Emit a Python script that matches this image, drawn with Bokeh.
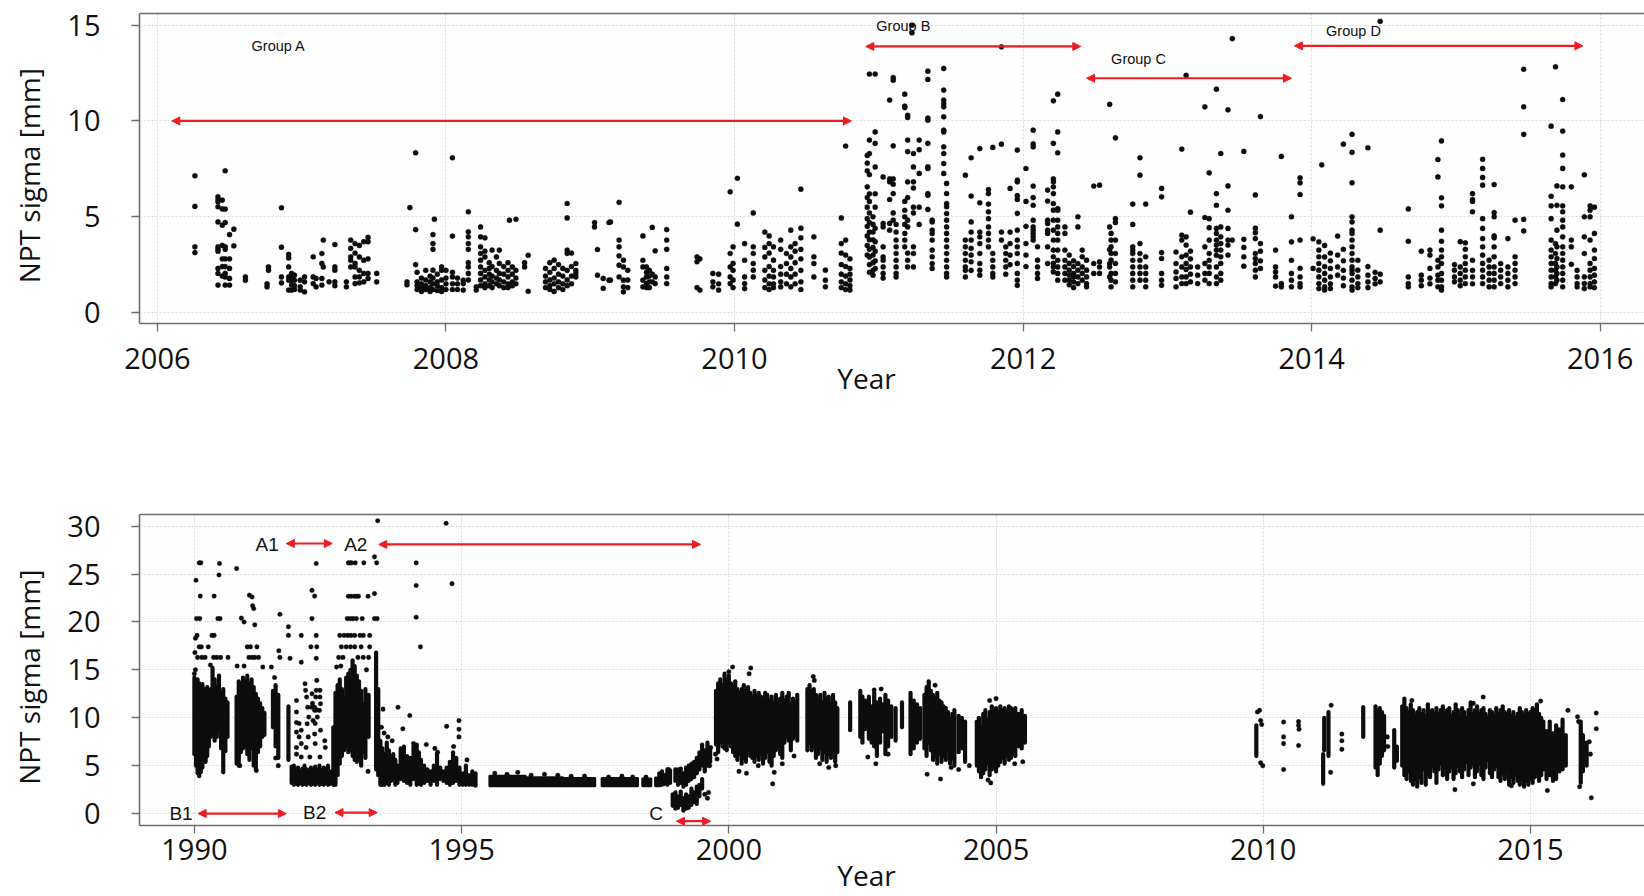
from bokeh.plotting import figure
from bokeh.models import Range1d, FixedTicker, Arrow, NormalHead, Label, LinearAxis
from bokeh.layouts import column
from bokeh.embed import file_html
from bokeh.resources import INLINE

# ---------------- DATA ----------------
# Top panel: (epoch year, [NPT sigma values in mm]) per observation column
group_a_cols = [
    (2006.26, [7.14, 5.54, 3.43, 3.13]),
    (2006.42, [6.04, 5.9, 5.78, 5.52, 4.73, 3.43, 3.31, 3.2, 2.3, 2.04, 1.43]),
    (2006.45, [5.87, 5.41, 4.56, 3.5, 2.8, 2.4, 1.9]),
    (2006.47, [7.4, 5.4, 4.7, 3.43, 3.3, 2.8, 2.4, 2.04, 1.86, 1.43]),
    (2006.50, [4.07, 2.8, 2.3, 1.78, 1.43]),
    (2006.53, [4.35, 3.48]),
    (2006.61, [1.86, 1.69]),
    (2006.76, [1.5, 1.34]),
    (2006.77, [2.38, 2.2]),
    (2006.86, [5.47, 3.41, 1.86, 1.55]),
    (2006.91, [3.03, 2.85, 2.38, 1.86, 1.69, 1.17]),
    (2006.93, [2.04, 1.86, 1.69, 1.43, 1.17]),
    (2006.95, [1.95, 1.69, 1.4, 1.2]),
    (2006.99, [1.69, 1.34, 1.17]),
    (2007.02, [1.86, 1.6, 1.08]),
    (2007.08, [2.91, 1.86, 1.51]),
    (2007.10, [1.78, 1.34]),
    (2007.14, [3.08, 2.56, 1.78, 1.43]),
    (2007.15, [3.78, 2.38]),
    (2007.19, [1.6]),
    (2007.23, [3.55, 2.38, 2.21, 1.6, 1.4]),
    (2007.31, [1.6, 1.34]),
    (2007.34, [3.78, 3.35, 2.91, 2.73, 2.38]),
    (2007.37, [3.6, 3.1, 2.56, 2.38, 1.86, 1.51]),
    (2007.40, [3.5, 2.9, 2.2, 1.86, 1.55]),
    (2007.43, [3.7, 2.73, 2.04, 1.6]),
    (2007.46, [3.92, 3.7, 2.8, 2.04, 1.78]),
    (2007.52, [2.04, 1.6]),
    (2007.73, [1.6, 1.45]),
    (2007.75, [5.48]),
    (2007.79, [8.34, 4.33, 2.5]),
    (2007.80, [2.1, 1.6, 1.4, 1.2]),
    (2007.83, [1.8, 1.5, 1.3, 1.1]),
    (2007.86, [2.2, 1.7, 1.4, 1.2]),
    (2007.89, [1.9, 1.6, 1.3, 1.1]),
    (2007.91, [4.07, 3.6, 3.3, 2.21, 1.8, 1.5, 1.2]),
    (2007.92, [4.87]),
    (2007.94, [2.0, 1.6, 1.4, 1.15]),
    (2007.97, [2.38, 2.2, 1.7, 1.3, 1.1]),
    (2008.00, [2.2, 1.8, 1.5, 1.2]),
    (2008.045, [8.08, 3.99, 2.1, 1.86, 1.5, 1.2]),
    (2008.08, [1.8, 1.5, 1.2]),
    (2008.12, [1.69, 1.51, 1.17]),
    (2008.155, [5.26, 4.21, 3.95, 3.6, 3.3, 2.6, 2.38, 2.04, 1.7]),
    (2008.21, [1.34, 1.17]),
    (2008.24, [4.47, 3.95, 3.43, 3.08, 2.73, 2.38, 2.04, 1.7, 1.4]),
    (2008.27, [3.9, 3.2, 2.9, 2.2, 1.86, 1.5, 1.3]),
    (2008.30, [2.6, 2.3, 2.0, 1.7, 1.4]),
    (2008.32, [3.26, 2.4, 1.9, 1.6, 1.3]),
    (2008.35, [2.9, 2.2, 1.8, 1.5]),
    (2008.37, [3.26, 2.56, 2.04, 1.7, 1.4]),
    (2008.40, [2.4, 2.0, 1.6, 1.3]),
    (2008.43, [2.6, 2.2, 1.86, 1.5, 1.3]),
    (2008.44, [4.82]),
    (2008.46, [2.38, 2.0, 1.6, 1.4]),
    (2008.485, [4.87, 2.2, 1.8, 1.5]),
    (2008.545, [2.6, 2.38]),
    (2008.57, [2.99, 1.11]),
    (2008.69, [2.3, 1.9, 1.6, 1.3]),
    (2008.72, [2.6, 2.1, 1.7, 1.4, 1.2]),
    (2008.75, [2.73, 2.3, 1.8, 1.5, 1.1]),
    (2008.78, [2.5, 2.0, 1.6, 1.3]),
    (2008.81, [2.3, 1.9, 1.5, 1.2]),
    (2008.84, [5.69, 4.94, 3.26, 3.08, 2.2, 1.7, 1.4]),
    (2008.87, [3.1, 2.4, 1.9, 1.5]),
    (2008.90, [2.56, 2.2, 2.04, 1.86]),
    (2009.03, [4.7, 4.47]),
    (2009.05, [3.29, 1.95]),
    (2009.09, [1.78, 1.26]),
    (2009.13, [4.7, 1.69]),
    (2009.14, [4.73, 1.69]),
    (2009.20, [5.75, 3.78, 3.43, 2.96, 2.47, 1.86]),
    (2009.23, [2.73, 2.38, 1.69, 1.34, 1.08]),
    (2009.26, [2.2, 1.7, 1.3]),
    (2009.365, [4.0, 2.73, 2.38, 1.69, 1.34]),
    (2009.39, [2.38, 2.1, 1.86, 1.51, 1.3]),
    (2009.41, [2.2, 1.9, 1.6, 1.3]),
    (2009.43, [4.44, 2.0, 1.6]),
    (2009.45, [3.22, 1.86, 1.51]),
    (2009.53, [4.33, 3.78, 3.3, 2.3, 1.86, 1.51]),
    (2009.74, [2.9, 2.65, 1.3]),
    (2009.76, [2.8, 1.17]),
    (2009.85, [2.04, 1.6, 1.34]),
    (2009.89, [2.0, 1.5, 1.17]),
    (2009.97, [6.3, 3.08, 2.38, 1.86, 1.51]),
    (2009.99, [3.43, 2.56, 2.2, 1.7, 1.3]),
    (2010.02, [7.01, 4.61]),
    (2010.07, [3.6, 2.73, 1.86, 1.51, 1.25]),
    (2010.13, [5.2, 3.43, 3.08, 2.56, 2.21, 1.86]),
    (2010.21, [4.2, 3.4, 2.9, 2.2, 1.7, 1.3]),
    (2010.24, [4.0, 3.6, 3.1, 2.4, 1.9, 1.5, 1.2]),
    (2010.27, [3.43, 2.73, 2.2, 1.86, 1.5, 1.3]),
    (2010.32, [3.78, 3.3, 2.4, 2.0, 1.6, 1.34]),
    (2010.36, [3.08, 2.56, 2.0, 1.5]),
    (2010.39, [4.3, 3.43, 2.9, 2.3, 1.86, 1.34]),
    (2010.42, [3.6, 3.2, 2.6, 2.0, 1.5]),
    (2010.46, [6.44, 4.4, 3.9, 3.3, 2.8, 2.2, 1.6, 1.2]),
    (2010.55, [3.95, 2.91, 2.56, 1.86]),
    (2010.63, [2.21, 1.69, 1.34]),
    (2010.74, [4.94, 3.6, 3.1, 2.5, 2.0, 1.6, 1.3]),
    (2010.77, [8.69, 3.78, 3.0, 2.4, 1.9, 1.5, 1.2]),
    (2010.80, [2.8, 2.3, 2.0, 1.7, 1.4, 1.17]),
]

group_b_cols = [
    (2010.92, [8.2, 7.8, 7.4, 6.56, 6.0, 5.5, 4.9, 4.5, 4.0, 3.5, 3.0]),
    (2010.935, [12.45, 9.0, 8.3, 7.2, 6.2, 5.8, 5.2, 4.7, 4.2, 3.8, 3.3, 2.9, 2.5, 2.1]),
    (2010.96, [5.0, 4.6, 4.2, 3.8, 3.4, 3.0, 2.6, 2.2, 1.95]),
    (2010.975, [12.45, 9.43, 8.83, 7.6, 6.2, 5.5, 4.4, 3.7, 3.2, 2.7, 2.3]),
    (2011.03, [7.08, 4.65, 4.47, 3.43, 2.9, 2.73, 2.38, 2.04, 1.8]),
    (2011.075, [11.09, 6.98, 6.82, 5.9, 4.65, 4.3]),
    (2011.10, [12.27, 12.13, 8.7, 6.98, 6.7, 6.21, 5.2, 4.82]),
    (2011.12, [4.6, 4.2, 3.78, 3.43, 3.08, 2.73, 2.38, 2.04, 1.86]),
    (2011.18, [11.4, 10.78, 10.7, 5.8, 5.34, 5.0, 4.6, 4.13, 3.78, 3.43]),
    (2011.20, [10.3, 10.18, 9.0, 8.4, 6.82, 6.0, 4.82, 4.47, 3.1, 2.73, 2.38]),
    (2011.23, [15.0, 14.6]),
    (2011.24, [8.3, 7.6, 6.82, 6.5, 5.5, 5.2, 3.43, 3.08, 2.38]),
    (2011.28, [9.0, 8.5, 7.26, 5.5, 4.6]),
    (2011.34, [12.6, 12.17, 10.15, 10.04, 8.83, 7.61, 7.52, 6.21, 6.12, 5.38]),
    (2011.37, [4.82, 4.73, 4.3, 4.13, 3.78, 3.26, 2.91, 2.56, 2.3]),
    (2011.45, [12.74, 11.61, 11.09, 10.91, 10.74, 10.22, 9.52, 9.43, 8.65, 8.3, 7.78, 7.26]),
    (2011.47, [6.74, 6.21, 5.69, 5.52, 5.17, 4.82, 4.47, 4.13, 3.78, 3.43, 3.08, 2.73, 2.38, 2.04, 1.86]),
    (2011.60, [7.17, 3.78, 3.43, 3.08, 2.73, 2.38, 2.2, 1.86]),
    (2011.64, [8.08, 6.08, 4.73, 4.2, 3.78, 3.35, 3.0, 2.65, 2.2]),
    (2011.70, [8.56, 5.73, 4.2, 3.95, 3.6, 3.08, 2.56, 2.21, 1.95]),
    (2011.76, [6.42, 6.21, 5.66, 5.26, 4.9, 4.47, 4.13, 3.78, 3.43]),
    (2011.79, [8.62, 3.08, 2.73, 2.38, 2.04, 1.86]),
    (2011.85, [13.87, 8.79, 4.2, 3.78]),
    (2011.88, [3.43, 3.08, 2.73, 2.38, 2.0]),
    (2011.91, [6.48, 4.2, 3.6, 3.0, 2.5]),
    (2011.96, [8.48, 6.91, 6.82, 6.1, 5.9, 5.18, 4.3, 3.78, 3.43, 3.08, 2.56, 2.04, 1.69, 1.42]),
    (2012.02, [7.52, 5.8, 4.5, 3.6, 3.0, 2.4]),
    (2012.07, [9.52, 8.8, 8.65, 6.6, 6.0, 5.6, 4.82, 4.47, 4.3, 4.13, 3.95, 3.78]),
    (2012.10, [3.43, 2.73, 2.38, 2.04, 1.78]),
    (2012.17, [6.39, 5.82, 4.82, 4.65, 4.3, 4.13, 3.43, 2.56]),
    (2012.21, [11.05, 8.83, 6.98, 6.82, 6.56, 6.21, 5.69, 5.34, 4.82, 4.3, 3.78, 3.26, 2.91, 2.56, 2.38, 2.12]),
    (2012.24, [11.4, 9.43, 8.34, 5.43, 5.34, 4.82, 4.47, 4.13, 3.78, 3.26, 2.73, 2.38, 2.04, 1.69]),
    (2012.29, [4.47, 4.13, 3.26, 2.73, 2.38, 2.04, 1.69]),
    (2012.32, [3.0, 2.56, 2.21, 1.95, 1.69, 1.45]),
    (2012.35, [2.7, 2.4, 2.04, 1.86, 1.6, 1.3]),
    (2012.38, [5.0, 4.47, 2.56, 2.21, 1.86, 1.51]),
    (2012.41, [3.26, 2.91, 2.38, 2.04, 1.69]),
    (2012.44, [2.73, 2.21, 1.86, 1.51, 1.34]),
    (2012.49, [6.6, 2.56, 2.04]),
]

group_c_cols = [
    (2012.53, [6.65, 2.65, 2.38, 2.04]),
    (2012.60, [10.87, 4.47, 3.29, 2.56, 2.38, 1.86]),
    (2012.61, [4.13, 3.78, 3.43, 3.08, 2.73, 2.04, 1.69, 1.34]),
    (2012.64, [9.12, 4.9, 4.7, 3.78, 3.08, 2.56, 2.04, 1.6]),
    (2012.76, [5.66, 4.6, 3.43, 3.26, 3.08, 2.73, 2.38, 2.04, 1.69, 1.34]),
    (2012.81, [8.08, 7.17, 3.6, 3.08, 2.73, 2.38, 2.04, 1.69]),
    (2012.85, [5.66, 2.91, 2.38, 2.04, 1.69, 1.34]),
    (2012.96, [6.48, 6.04, 3.13, 2.82, 2.04, 1.69, 1.42]),
    (2013.06, [3.16, 2.56, 2.12, 1.78, 1.34]),
    (2013.10, [8.53, 4.04, 3.78, 2.91, 2.38, 1.86, 1.51]),
    (2013.13, [12.38, 3.95, 3.52, 3.0, 2.56, 2.25, 1.86, 1.51]),
    (2013.16, [5.24, 3.2, 2.8, 2.38, 2.0, 1.6]),
    (2013.21, [2.38, 1.95, 1.51]),
    (2013.26, [10.74, 4.96, 3.43, 2.56, 2.04, 1.69]),
    (2013.29, [7.29, 4.9, 4.43, 3.78, 3.08, 2.73, 2.38, 2.04, 1.51]),
    (2013.34, [11.66, 6.21, 5.6, 4.39, 4.13, 3.78, 3.52, 3.26, 2.99, 2.38, 1.86, 1.51]),
    (2013.37, [8.3, 4.47, 3.95, 3.6, 3.26, 2.91, 2.56, 2.04, 1.69]),
    (2013.42, [10.58, 6.61, 5.34, 4.39, 3.78, 3.52, 3.0]),
    (2013.45, [14.3, 3.78]),
    (2013.53, [8.41, 3.82, 3.4, 2.91, 2.42]),
    (2013.61, [6.14, 4.4, 4.17, 3.86, 3.08, 2.82, 2.56, 2.21, 1.86]),
    (2013.645, [10.23, 3.6, 3.2, 2.7, 2.3]),
    (2013.75, [3.26, 2.38, 2.12, 1.86, 1.38]),
    (2013.79, [8.15, 1.51, 1.34]),
]

group_d_cols = [
    (2013.86, [5.0, 3.69, 2.73, 2.04, 1.69, 1.34]),
    (2013.92, [7.03, 6.77, 6.16, 3.78, 2.31, 1.86, 1.51, 1.34]),
    (2014.01, [3.85, 2.3]),
    (2014.05, [3.69, 3.26, 2.91, 2.56, 2.21, 1.86, 1.51, 1.25]),
    (2014.07, [7.71]),
    (2014.09, [3.5, 2.9, 2.4, 2.04, 1.69, 1.34, 1.17]),
    (2014.13, [3.1, 2.7, 2.3, 1.86, 1.5, 1.25]),
    (2014.18, [3.99, 3.0, 2.38, 1.95]),
    (2014.22, [8.79, 3.3, 2.7, 2.2, 1.8, 1.4]),
    (2014.28, [9.3, 8.36, 6.77, 5.0, 4.73, 4.3, 4.13, 3.78, 3.43, 3.08, 2.73, 2.38, 2.21, 2.04, 1.69, 1.34, 1.17]),
    (2014.32, [2.73, 2.21, 1.86, 1.51, 1.3]),
    (2014.39, [8.6, 2.4, 1.95, 1.6, 1.3]),
    (2014.44, [2.1, 1.78, 1.5]),
    (2014.475, [15.2, 4.3, 2.0, 1.6]),
    (2014.67, [5.41, 3.72, 1.86, 1.51, 1.34]),
    (2014.76, [3.2, 1.95, 1.69, 1.4]),
    (2014.82, [3.26, 3.0, 2.3, 1.8, 1.5]),
    (2014.875, [7.99, 7.08, 2.73, 2.38, 1.95, 1.69, 1.34]),
    (2014.90, [8.96, 5.99, 5.57, 4.3, 3.72, 3.26, 2.91, 2.56, 2.04, 1.69, 1.34, 1.17]),
    (2014.99, [2.5, 2.21, 1.86, 1.6]),
    (2015.03, [3.7, 2.38, 2.04, 1.69, 1.4]),
    (2015.065, [3.64, 3.3, 2.91, 2.56, 2.21, 1.86, 1.51]),
    (2015.115, [6.21, 5.9, 5.8, 5.26, 2.73, 2.2, 1.86, 1.5]),
    (2015.185, [8.0, 7.52, 7.05, 6.65, 4.9, 4.39, 3.86, 3.43, 3.0, 2.56, 2.21, 1.86, 1.51]),
    (2015.23, [2.73, 2.38, 2.04, 1.69, 1.34]),
    (2015.265, [6.68, 5.22, 5.0, 4.0, 3.9, 3.43, 2.91, 2.38, 2.04, 1.69, 1.34]),
    (2015.31, [2.56, 2.21, 1.86, 1.51]),
    (2015.36, [3.86, 2.38, 2.04, 1.69, 1.34]),
    (2015.41, [4.82, 2.91, 2.56, 2.21, 1.86, 1.51]),
    (2015.47, [12.7, 10.74, 9.3, 4.86, 4.26]),
    (2015.66, [9.73, 6.07, 5.57, 4.9, 3.78, 3.26, 2.91, 2.56, 2.21, 1.86, 1.51, 1.34]),
    (2015.69, [12.83, 3.6, 3.08, 2.56, 2.21, 1.86, 1.51]),
    (2015.70, [6.61, 5.6, 4.3, 3.43, 2.82, 2.38, 2.04, 1.69]),
    (2015.74, [11.12, 9.47, 8.22, 7.52, 6.56, 5.57, 5.26, 4.82, 4.47, 3.95, 3.43, 3.08, 2.73, 2.38, 2.04, 1.69, 1.34]),
    (2015.80, [6.56, 3.78, 3.43, 2.52]),
    (2015.84, [2.2, 1.86, 1.51, 1.34]),
    (2015.89, [7.19, 5.0, 3.95, 3.08, 1.86, 1.51, 1.25]),
    (2015.93, [5.57, 5.34, 5.0, 3.78, 2.56, 2.21, 1.86, 1.51, 1.34]),
    (2015.96, [5.5, 4.13, 3.26, 2.82, 2.3, 1.95, 1.6, 1.3]),
]

top_group_names = ["Group A", "Group B", "Group C", "Group D"]
top_group_label_x = [2006.84, 2011.17, 2012.80, 2014.29]
top_group_label_y = [13.9, 14.95, 13.23, 14.69]
top_arrow_x0 = [2006.10, 2010.91, 2012.44, 2013.88]
top_arrow_x1 = [2010.81, 2012.40, 2013.86, 2015.88]
top_arrow_y = [10.0, 13.89, 12.23, 13.92]
top_xticks = [2006, 2008, 2010, 2012, 2014, 2016]
top_yticks = [0, 5, 10, 15]

# Bottom panel: dense observation columns as (year, lowest, highest) sigma in mm
dense_1990 = [
    (1990.00, 6.2, 14.2), (1990.03, 5.0, 13.9), (1990.06, 4.2, 14.0), (1990.09, 3.9, 13.6),
    (1990.12, 4.3, 13.2), (1990.15, 4.8, 13.5), (1990.18, 5.5, 13.0), (1990.21, 5.4, 12.6),
    (1990.24, 6.0, 13.2), (1990.27, 7.0, 12.0), (1990.31, 8.0, 13.0), (1990.34, 8.6, 15.2),
    (1990.38, 7.6, 14.0), (1990.42, 8.0, 13.2), (1990.46, 8.8, 14.4), (1990.50, 6.8, 12.6),
    (1990.54, 4.3, 13.0), (1990.58, 6.5, 12.0), (1990.62, 8.0, 11.6),
]
dense_1991 = [
    (1990.79, 5.2, 12.2), (1990.83, 5.0, 13.8), (1990.87, 6.4, 13.5), (1990.91, 6.8, 14.2),
    (1990.95, 7.0, 13.8), (1990.99, 6.2, 14.4), (1991.03, 5.6, 13.6), (1991.07, 6.8, 14.0),
    (1991.11, 5.0, 13.2), (1991.15, 4.6, 12.5), (1991.19, 6.4, 12.0), (1991.23, 7.0, 11.5),
    (1991.27, 8.0, 11.0), (1991.31, 8.2, 10.5), (1991.47, 9.0, 12.8), (1991.52, 7.0, 13.4),
    (1991.57, 5.8, 12.4), (1991.76, 5.6, 11.2),
]
dense_1992 = [
    (1991.82, 3.2, 4.9), (1991.86, 3.0, 5.0), (1991.90, 3.1, 4.6), (1991.94, 3.0, 4.8),
    (1991.98, 3.2, 4.4), (1992.02, 3.0, 4.7), (1992.06, 3.1, 5.0), (1992.10, 3.0, 4.6),
    (1992.14, 3.2, 4.5), (1992.18, 3.0, 4.8), (1992.22, 3.1, 4.4), (1992.26, 3.0, 4.9),
    (1992.30, 3.2, 4.6), (1992.34, 3.0, 5.0), (1992.38, 3.1, 4.5), (1992.42, 3.0, 4.8),
    (1992.46, 3.2, 4.6), (1992.50, 3.0, 5.0), (1992.54, 3.1, 4.4),
]
dense_1993 = [
    (1992.60, 3.0, 9.0), (1992.64, 3.0, 12.6), (1992.68, 4.0, 13.4), (1992.72, 5.2, 14.0),
    (1992.76, 6.0, 13.0), (1992.80, 6.6, 12.0), (1992.84, 7.0, 14.2), (1992.88, 6.4, 14.6),
    (1992.92, 6.6, 15.0), (1992.96, 6.0, 16.0), (1993.00, 5.6, 15.4), (1993.04, 5.4, 14.4),
    (1993.08, 6.0, 13.8), (1993.12, 5.0, 12.8), (1993.16, 6.4, 11.4), (1993.20, 5.8, 13.0),
    (1993.26, 8.0, 12.4), (1993.40, 4.6, 16.8), (1993.44, 4.0, 13.0),
]
dense_1994 = [
    (1993.48, 3.0, 7.6), (1993.52, 3.0, 6.8), (1993.56, 3.0, 6.2), (1993.60, 3.2, 7.4),
    (1993.64, 3.0, 6.6), (1993.68, 3.4, 5.8), (1993.72, 3.6, 6.2), (1993.76, 3.0, 5.6),
    (1993.80, 3.2, 5.0), (1993.86, 3.6, 6.8), (1993.92, 3.4, 7.0), (1993.98, 3.2, 6.0),
    (1994.04, 3.0, 5.8), (1994.10, 3.6, 7.0), (1994.16, 3.0, 7.2), (1994.20, 3.1, 6.4),
    (1994.24, 3.0, 5.6), (1994.30, 3.2, 5.0), (1994.36, 3.4, 4.6), (1994.42, 3.0, 4.4),
    (1994.48, 3.4, 5.0), (1994.54, 3.0, 6.2), (1994.60, 3.6, 4.8), (1994.66, 3.4, 4.4),
    (1994.72, 3.2, 4.8), (1994.78, 3.0, 5.4), (1994.84, 3.2, 6.4), (1994.90, 3.4, 5.8),
    (1994.96, 3.0, 4.8), (1995.02, 3.0, 4.2), (1995.08, 3.0, 5.0), (1995.14, 3.0, 4.0),
    (1995.20, 3.0, 4.4), (1995.26, 2.9, 4.2),
]
# quiet period: (start year, end year, lowest, highest)
quiet_bands = [
    (1995.52, 1996.20, 2.85, 3.95), (1996.20, 1996.90, 2.85, 3.8), (1996.90, 1997.50, 2.85, 3.7),
    (1997.62, 1998.30, 2.85, 3.7), (1998.38, 1998.55, 2.85, 3.65), (1998.62, 1998.72, 2.85, 3.75),
]
dense_1999 = [
    (1998.70, 3.0, 4.2), (1998.75, 3.0, 4.4), (1998.80, 3.1, 4.0), (1998.85, 3.0, 4.6),
    (1998.90, 3.2, 4.5), (1998.95, 0.8, 2.0), (1999.00, 0.5, 2.2), (1999.00, 3.4, 4.6),
    (1999.05, 0.6, 1.8), (1999.05, 3.0, 4.6), (1999.10, 0.9, 2.3), (1999.10, 3.2, 4.7),
    (1999.15, 0.3, 1.6), (1999.15, 2.8, 4.2), (1999.20, 0.5, 2.0), (1999.20, 3.0, 4.8),
    (1999.25, 0.6, 1.8), (1999.25, 3.4, 5.0), (1999.30, 0.9, 2.6), (1999.30, 3.6, 5.2),
    (1999.35, 1.2, 2.2), (1999.35, 3.8, 5.4), (1999.40, 1.0, 2.8), (1999.40, 4.2, 5.8),
    (1999.45, 1.8, 3.0), (1999.45, 4.6, 6.4), (1999.50, 2.6, 3.6), (1999.50, 5.0, 7.2),
    (1999.55, 4.4, 6.6), (1999.60, 5.0, 7.4), (1999.65, 5.4, 6.8),
]
dense_2000 = [
    (1999.76, 7.2, 12.8), (1999.80, 6.4, 13.6), (1999.84, 7.4, 14.0), (1999.88, 7.0, 13.4),
    (1999.92, 6.8, 14.6), (1999.96, 6.6, 14.0), (2000.00, 7.4, 14.4), (2000.04, 7.0, 13.6),
    (2000.08, 6.4, 13.2), (2000.12, 6.0, 13.8), (2000.16, 5.6, 13.0), (2000.20, 6.2, 12.6),
    (2000.24, 5.2, 13.0), (2000.28, 5.8, 13.4), (2000.32, 5.4, 12.8), (2000.36, 6.6, 13.2),
    (2000.40, 6.0, 12.6), (2000.44, 5.8, 12.2), (2000.48, 5.4, 12.8), (2000.52, 6.0, 12.4),
    (2000.56, 5.6, 12.6), (2000.60, 6.2, 12.2), (2000.64, 5.2, 12.0), (2000.68, 5.8, 12.6),
    (2000.72, 6.4, 12.4), (2000.76, 5.4, 11.8), (2000.80, 5.0, 12.2), (2000.84, 6.0, 11.6),
    (2000.88, 6.6, 12.4), (2000.92, 7.0, 11.6), (2000.96, 6.2, 12.0), (2001.00, 5.8, 12.6),
    (2001.04, 7.4, 11.8), (2001.08, 8.0, 12.2), (2001.12, 7.6, 12.6), (2001.16, 6.6, 11.4),
    (2001.20, 7.8, 12.0), (2001.24, 8.2, 11.6), (2001.28, 7.6, 12.4),
]
dense_2002 = [
    (2001.47, 6.6, 13.0), (2001.51, 7.4, 13.4), (2001.55, 6.6, 12.8), (2001.59, 7.0, 13.0),
    (2001.63, 5.8, 12.4), (2001.67, 6.2, 12.0), (2001.71, 6.8, 12.4), (2001.75, 5.6, 11.6),
    (2001.79, 6.4, 12.6), (2001.83, 5.4, 12.0), (2001.87, 6.2, 12.2), (2001.91, 5.8, 11.4),
    (2001.95, 6.6, 12.4), (2001.99, 5.4, 11.6), (2002.03, 6.4, 11.0), (2002.27, 8.7, 11.6),
    (2002.46, 8.0, 12.8), (2002.50, 7.4, 12.2), (2002.55, 8.8, 11.8), (2002.62, 7.8, 12.2),
    (2002.67, 7.4, 11.2), (2002.72, 7.0, 12.6), (2002.77, 6.0, 11.6), (2002.83, 7.4, 12.0),
    (2002.88, 8.6, 11.4), (2002.93, 6.2, 12.4), (2002.98, 7.0, 11.8), (2003.04, 8.0, 11.2),
    (2003.12, 7.6, 11.0), (2003.24, 9.0, 11.6),
]
dense_2004 = [
    (2003.40, 6.2, 12.6), (2003.46, 6.8, 11.8), (2003.52, 7.4, 11.4), (2003.58, 7.8, 11.0),
    (2003.66, 6.8, 12.4), (2003.70, 6.0, 13.2), (2003.74, 7.4, 13.8), (2003.78, 6.6, 12.8),
    (2003.82, 5.6, 12.4), (2003.86, 6.0, 12.0), (2003.90, 5.2, 12.6), (2003.94, 6.2, 11.8),
    (2003.98, 5.4, 11.6), (2004.02, 6.0, 11.2), (2004.06, 5.6, 11.0), (2004.10, 6.6, 10.6),
    (2004.14, 5.2, 9.8), (2004.18, 5.8, 10.4), (2004.22, 5.0, 10.8), (2004.30, 6.4, 10.2),
    (2004.36, 6.8, 10.0), (2004.42, 5.4, 9.6),
    (2004.64, 5.0, 9.6), (2004.68, 4.4, 10.0), (2004.72, 3.8, 9.0), (2004.76, 4.2, 10.4),
    (2004.80, 4.6, 10.8), (2004.84, 5.2, 9.8), (2004.88, 4.0, 10.6), (2004.92, 4.6, 11.2),
    (2004.96, 5.0, 10.6), (2005.00, 4.4, 11.0), (2005.04, 5.0, 10.6), (2005.08, 5.4, 11.2),
    (2005.12, 5.8, 10.8), (2005.16, 5.2, 11.0), (2005.20, 6.0, 10.6), (2005.24, 5.6, 11.2),
    (2005.28, 5.8, 11.0), (2005.32, 6.2, 10.8), (2005.36, 6.0, 11.0), (2005.42, 7.0, 10.4),
    (2005.48, 6.8, 10.8), (2005.54, 7.4, 10.2),
]
dense_2012 = [
    (2009.87, 6.0, 9.2), (2011.12, 3.1, 6.2), (2011.14, 6.6, 10.0), (2011.22, 6.0, 10.6),
    (2011.87, 8.0, 11.1), (2012.10, 4.8, 11.2), (2012.14, 4.0, 10.8), (2012.18, 5.2, 11.0),
    (2012.22, 6.0, 10.6), (2012.26, 6.6, 10.2), (2012.45, 4.8, 8.7), (2012.50, 5.5, 7.0),
    (2012.60, 5.0, 11.2), (2012.64, 4.0, 12.0), (2012.68, 3.6, 11.0), (2012.72, 4.4, 10.6),
    (2012.76, 3.4, 11.4), (2012.80, 3.0, 10.8), (2012.84, 3.6, 10.2), (2012.88, 2.8, 10.6),
    (2012.92, 3.8, 11.0), (2012.96, 3.2, 10.4), (2013.00, 4.6, 10.8), (2013.04, 3.0, 10.2),
    (2013.08, 4.2, 11.4), (2013.12, 3.8, 10.6), (2013.16, 5.0, 10.8), (2013.20, 4.4, 10.4),
    (2013.24, 3.2, 11.0), (2013.28, 4.6, 10.4),
]
dense_2014 = [
    (2013.32, 5.2, 10.8), (2013.36, 4.0, 11.2), (2013.40, 4.8, 10.4), (2013.44, 3.6, 10.8),
    (2013.48, 4.4, 11.0), (2013.52, 4.8, 10.2), (2013.56, 3.6, 10.6), (2013.60, 4.2, 11.4),
    (2013.64, 5.0, 10.8), (2013.68, 4.4, 10.2), (2013.72, 3.8, 11.0), (2013.76, 4.6, 10.6),
    (2013.80, 5.4, 10.0), (2013.84, 4.0, 10.8), (2013.88, 4.8, 11.6), (2013.92, 5.2, 10.4),
    (2013.96, 3.8, 10.8), (2014.00, 4.4, 11.2), (2014.04, 5.2, 10.4), (2014.08, 4.0, 10.8),
    (2014.12, 3.6, 11.0), (2014.16, 4.8, 10.4), (2014.20, 5.6, 10.0), (2014.24, 4.2, 10.8),
    (2014.28, 3.8, 10.6), (2014.32, 4.6, 10.2), (2014.36, 5.0, 11.0), (2014.40, 3.8, 10.4),
    (2014.44, 3.4, 10.8), (2014.48, 4.2, 11.2), (2014.52, 3.6, 10.6), (2014.56, 4.4, 10.4),
    (2014.60, 3.0, 10.8), (2014.64, 3.8, 10.2), (2014.68, 3.2, 10.6), (2014.72, 4.0, 10.0),
    (2014.76, 3.4, 10.4), (2014.80, 3.0, 11.0), (2014.84, 3.6, 10.6), (2014.88, 2.8, 10.2),
    (2014.92, 3.4, 10.8), (2014.96, 3.0, 10.4), (2015.00, 3.6, 10.6), (2015.04, 3.2, 11.0),
    (2015.08, 3.8, 10.8), (2015.12, 4.2, 11.4), (2015.16, 3.4, 10.4), (2015.20, 4.0, 10.0),
    (2015.24, 4.6, 9.6), (2015.30, 3.6, 8.6), (2015.36, 4.0, 9.6), (2015.42, 3.4, 8.4),
    (2015.48, 3.6, 9.2), (2015.54, 4.4, 8.8), (2015.60, 4.6, 9.8), (2015.66, 5.0, 8.2),
    (2015.94, 3.2, 9.6), (2015.98, 4.4, 8.2), (2016.05, 5.0, 7.4),
]
# Bottom panel: individual scattered observations (year, sigma mm)
pts_1990 = [
    (1990.09, 26.17), (1990.12, 26.17), (1990.03, 24.36), (1990.11, 22.7), (1990.04, 20.35),
    (1990.10, 20.35), (1990.05, 18.6), (1990.02, 18.3), (1990.09, 17.4), (1990.13, 17.4),
    (1990.06, 16.3), (1990.14, 16.3), (1990.20, 16.3), (1990.47, 26.1), (1990.46, 24.9),
    (1990.37, 22.7), (1990.44, 20.35), (1990.48, 20.35), (1990.33, 18.6), (1990.37, 18.6),
    (1990.26, 17.4), (1990.36, 16.3), (1990.42, 16.3), (1990.49, 16.3), (1990.63, 16.3),
    (1990.30, 15.5), (1990.79, 25.57), (1990.02, 15.0), (1990.00, 14.6), (1990.01, 16.8),
]
pts_1991 = [
    (1991.03, 22.8), (1991.08, 22.6), (1991.09, 21.7), (1991.11, 21.4), (1991.13, 19.7),
    (1990.88, 20.4), (1990.93, 20.0), (1990.99, 17.4), (1991.05, 17.4), (1991.02, 16.3),
    (1991.08, 16.3), (1991.13, 16.3), (1991.20, 16.3), (1991.17, 17.4), (1990.80, 15.4),
    (1990.93, 15.4), (1991.28, 15.3), (1991.16, 4.5), (1990.85, 5.0), (1990.82, 6.0),
    (1991.60, 20.8), (1991.60, 16.3), (1991.58, 17.0), (1991.76, 19.5), (1991.76, 18.6),
    (1991.79, 16.2), (1991.44, 15.3), (1991.50, 14.2), (1991.57, 5.0), (1991.52, 5.8),
]
pts_1992 = [
    (1991.91, 11.8), (1991.91, 10.6), (1991.91, 9.5), (1991.91, 8.5), (1991.91, 6.9),
    (1991.91, 6.2), (1991.96, 9.4), (1991.96, 8.0), (1992.00, 18.6), (1992.00, 15.8),
    (1992.00, 8.7), (1992.00, 7.3), (1992.00, 5.9), (1992.07, 13.55), (1992.08, 12.86),
    (1992.10, 12.16), (1992.12, 11.1), (1992.14, 10.07), (1992.11, 9.37), (1992.13, 8.0),
    (1992.09, 6.9), (1992.16, 5.9), (1992.20, 23.3), (1992.20, 20.35), (1992.18, 17.4),
    (1992.20, 12.5), (1992.21, 11.5), (1992.19, 11.1), (1992.22, 9.7), (1992.25, 22.7),
    (1992.25, 11.1), (1992.25, 10.77), (1992.26, 9.4), (1992.25, 8.3), (1992.26, 7.3),
    (1992.28, 26.1), (1992.28, 18.6), (1992.29, 17.4), (1992.28, 16.2), (1992.29, 13.9),
    (1992.28, 12.86), (1992.27, 12.16), (1992.29, 10.8), (1992.30, 10.07), (1992.35, 12.86),
    (1992.35, 12.16), (1992.36, 11.46), (1992.34, 10.77), (1992.36, 8.7), (1992.35, 5.9),
    (1992.44, 7.6), (1992.45, 6.9),
]
pts_1993 = [
    (1992.88, 26.17), (1992.91, 26.17), (1992.94, 26.17), (1993.01, 26.17), (1993.17, 26.17),
    (1992.88, 22.68), (1992.93, 22.68), (1992.99, 22.68), (1993.03, 22.68), (1993.07, 22.68),
    (1993.25, 22.68), (1992.86, 20.35), (1992.92, 20.35), (1992.97, 20.35), (1993.03, 20.35),
    (1993.14, 20.35), (1992.72, 18.6), (1992.80, 18.6), (1992.87, 18.6), (1992.93, 18.6),
    (1993.00, 18.6), (1993.10, 18.6), (1993.16, 18.6), (1993.28, 18.6), (1992.75, 17.4),
    (1992.84, 17.4), (1992.92, 17.4), (1993.00, 17.4), (1993.12, 17.4), (1993.28, 17.4),
    (1992.70, 16.3), (1992.78, 16.3), (1993.06, 16.3), (1993.16, 16.3), (1993.26, 16.3),
    (1992.66, 15.3), (1992.74, 15.4), (1993.22, 15.0), (1993.25, 4.4), (1993.37, 26.8),
    (1993.41, 26.17), (1993.37, 22.96), (1993.37, 20.35), (1993.42, 20.35), (1993.43, 30.56),
]
pts_1994 = [
    (1993.50, 9.0), (1993.55, 8.4), (1993.53, 10.9), (1993.81, 11.1), (1993.90, 8.85),
    (1994.03, 10.24), (1994.15, 26.17), (1994.15, 23.8), (1994.15, 20.5), (1994.23, 17.4),
    (1994.71, 30.3), (1994.72, 9.1), (1994.82, 24.0), (1994.95, 9.7), (1994.95, 8.8),
    (1994.95, 8.0), (1995.10, 5.6), (1993.62, 8.0), (1993.70, 7.6), (1994.10, 7.3),
    (1994.34, 7.2), (1994.55, 6.4), (1994.50, 6.8), (1994.85, 7.0),
]
pts_1996 = [
    (1995.62, 4.2), (1995.85, 4.1), (1996.05, 4.3), (1996.30, 4.0), (1996.55, 4.1),
    (1996.80, 4.0), (1997.05, 3.9), (1997.30, 3.9), (1997.75, 3.8), (1998.00, 3.9),
    (1998.20, 3.8), (1998.45, 3.8), (1998.87, 4.6), (1999.55, 2.0), (1999.60, 1.6),
    (1999.62, 2.2), (1999.66, 6.9), (1999.64, 5.0),
]
pts_2000 = [
    (2000.07, 15.3), (2000.41, 15.2), (2000.38, 14.6), (2000.00, 14.8), (2000.19, 4.4),
    (2000.33, 4.2), (2000.82, 3.1), (2000.85, 4.3), (2000.55, 5.0), (1999.75, 6.2),
    (1999.78, 5.7), (2001.00, 5.2), (2001.22, 6.0), (2001.60, 13.9), (2001.58, 14.3),
    (2001.87, 4.8), (2001.70, 5.2), (2002.00, 5.0), (2002.60, 5.9), (2002.75, 5.2),
    (2002.98, 6.2), (2002.85, 13.0), (2002.72, 12.9), (2003.71, 4.1), (2003.96, 3.6),
    (2003.86, 13.4), (2004.16, 4.8), (2004.30, 4.6), (2004.50, 5.0), (2004.85, 3.5),
    (2004.90, 3.2), (2005.35, 5.2), (2005.50, 5.4), (2004.88, 11.8), (2005.00, 12.0),
]
pts_2012 = [
    (2009.93, 10.77), (2009.89, 10.6), (2009.95, 9.7), (2009.97, 9.3), (2009.95, 5.3),
    (2009.99, 5.0), (2010.38, 9.55), (2010.38, 8.0), (2010.38, 7.3), (2010.38, 4.6),
    (2010.66, 9.6), (2010.66, 9.2), (2010.67, 8.8), (2010.66, 7.1), (2011.27, 11.3),
    (2011.26, 4.3), (2011.47, 8.3), (2011.47, 7.6), (2011.47, 6.7), (2012.32, 8.0),
    (2012.33, 7.0), (2012.78, 11.8), (2012.62, 11.1), (2013.93, 11.5), (2014.115, 12.16),
    (2015.19, 11.74), (2015.70, 10.77), (2013.586, 2.5), (2013.93, 3.1), (2014.644, 2.9),
    (2015.316, 2.4), (2016.138, 1.64), (2015.92, 2.8), (2016.23, 10.49), (2016.23, 8.85),
    (2016.10, 7.5), (2016.12, 6.2), (2015.90, 9.6), (2015.88, 10.1),
]

bottom_labels = ["A1", "A2", "B1", "B2", "C"]
bottom_label_x = [1991.36, 1993.02, 1989.75, 1992.25, 1998.64]
bottom_label_y = [28.12, 28.12, 0.0, 0.07, 0.0]
bottom_arrow_x0 = [1991.72, 1993.45, 1990.07, 1992.63, 1999.02]
bottom_arrow_x1 = [1992.58, 1999.47, 1991.72, 1993.42, 1999.66]
bottom_arrow_y = [28.19, 28.1, 0.0, 0.1, -0.8]
bottom_xticks = [1990, 1995, 2000, 2005, 2010, 2015]
bottom_yticks = [0, 5, 10, 15, 20, 25, 30]

# ---------------- STYLE ----------------
FONT = "Open Sans"
SMALL_FONT = "Liberation Sans"
AX = "#6e6e6e"
GRID = "#d9d9d9"
RED = "#ec1c24"
DOT = "#0d0d0d"
NB = "\u00a0"


def flatten_cols(cols):
    xs, ys = [], []
    for x, vals in cols:
        for v in vals:
            xs.append(x)
            ys.append(v)
    return xs, ys


def style(p, xticks, yticks, x_standoff, xlabel, xlabel_standoff):
    p.outline_line_color = None
    p.background_fill_color = "#fdfefd"
    p.border_fill_color = "white"
    for ax in p.xaxis:
        ax.ticker = FixedTicker(ticks=xticks)
        ax.major_label_standoff = x_standoff
        ax.axis_label = xlabel
        ax.axis_label_standoff = xlabel_standoff
    for ax in p.yaxis:
        ax.ticker = FixedTicker(ticks=yticks)
        ax.major_label_standoff = 31
        ax.axis_label = "NPT sigma [mm]" + NB * 2
        ax.axis_label_standoff = 16
    for ax in p.axis:
        ax.axis_line_color = AX
        ax.axis_line_width = 1.6
        ax.major_tick_line_color = AX
        ax.major_tick_line_width = 1.3
        ax.major_tick_in = 0
        ax.major_tick_out = 8
        ax.minor_tick_line_color = None
        ax.major_label_text_font = FONT
        ax.major_label_text_font_size = "29px"
        ax.major_label_text_color = "#111111"
        ax.axis_label_text_font = FONT
        ax.axis_label_text_font_size = "28px"
        ax.axis_label_text_font_style = "normal"
        ax.axis_label_text_color = "#111111"
    p.xgrid.ticker = FixedTicker(ticks=xticks)
    p.ygrid.ticker = FixedTicker(ticks=yticks)
    for g in (p.xgrid, p.ygrid):
        g.grid_line_color = GRID
        g.grid_line_dash = "2 2"
        g.grid_line_width = 1
    border = LinearAxis(ticker=FixedTicker(ticks=[]), major_label_text_font_size="0px",
                        major_tick_line_color=None, minor_tick_line_color=None,
                        major_tick_out=0, major_label_standoff=0,
                        axis_line_color=AX, axis_line_width=1.6)
    p.add_layout(border, "above")


def add_arrow(p, x0, x1, y, size):
    p.add_layout(Arrow(
        start=NormalHead(size=size, fill_color=RED, line_color=RED, line_width=1),
        end=NormalHead(size=size, fill_color=RED, line_color=RED, line_width=1),
        x_start=x0, y_start=y, x_end=x1, y_end=y,
        line_color=RED, line_width=2.2))


# ---------------- TOP PANEL ----------------
top = figure(width=1644, height=460, output_backend="svg", toolbar_location=None,
             x_range=Range1d(2005.876, 2016.307), y_range=Range1d(-0.574, 15.61),
             min_border_left=139, min_border_right=0, min_border_top=13, min_border_bottom=137)
style(top, top_xticks, top_yticks, 16, "Year" + NB * 7, -13)

for cols in (group_a_cols, group_b_cols, group_c_cols, group_d_cols):
    xs, ys = flatten_cols(cols)
    top.scatter(xs, ys, marker="circle", size=5.2, fill_color=DOT, line_color=DOT, line_width=0.3)

for x0, x1, yy in zip(top_arrow_x0, top_arrow_x1, top_arrow_y):
    add_arrow(top, x0, x1, yy, 8)
for name, lx, ly in zip(top_group_names, top_group_label_x, top_group_label_y):
    top.add_layout(Label(x=lx, y=ly, text=name, text_font=SMALL_FONT, text_font_size="14.5px",
                         text_align="center", text_baseline="middle", text_color="#111111"))

# ---------------- BOTTOM PANEL ----------------
bot = figure(width=1644, height=436, output_backend="svg", toolbar_location=None,
             x_range=Range1d(1988.973, 2017.133), y_range=Range1d(-1.25, 31.22),
             min_border_left=136, min_border_right=0, min_border_top=54, min_border_bottom=71)
style(bot, bottom_xticks, bottom_yticks, 5, "Year" + NB * 7, -7)

for dense in (dense_1990, dense_1991, dense_1992, dense_1993, dense_1994, dense_1999,
              dense_2000, dense_2002, dense_2004, dense_2012, dense_2014):
    sx = [d[0] for d in dense]
    lo = [d[1] for d in dense]
    hi = [d[2] for d in dense]
    bot.segment(x0=sx, y0=lo, x1=sx, y1=hi, line_color=DOT, line_width=4.2, line_cap="round")

bot.quad(left=[b[0] for b in quiet_bands], right=[b[1] for b in quiet_bands],
         bottom=[b[2] for b in quiet_bands], top=[b[3] for b in quiet_bands],
         fill_color=DOT, line_color=DOT, line_width=2)

for pts in (pts_1990, pts_1991, pts_1992, pts_1993, pts_1994, pts_1996, pts_2000, pts_2012):
    bot.scatter([q[0] for q in pts], [q[1] for q in pts], marker="circle", size=4.6,
                fill_color=DOT, line_color=DOT, line_width=0.3)

for x0, x1, yy in zip(bottom_arrow_x0, bottom_arrow_x1, bottom_arrow_y):
    add_arrow(bot, x0, x1, yy, 8)
for name, lx, ly in zip(bottom_labels, bottom_label_x, bottom_label_y):
    bot.add_layout(Label(x=lx, y=ly, text=name, text_font=SMALL_FONT, text_font_size="19px",
                         text_align="center", text_baseline="middle", text_color="#111111"))

layout = column(top, bot, spacing=0)
open("out.html", "w").write(file_html(layout, INLINE))
